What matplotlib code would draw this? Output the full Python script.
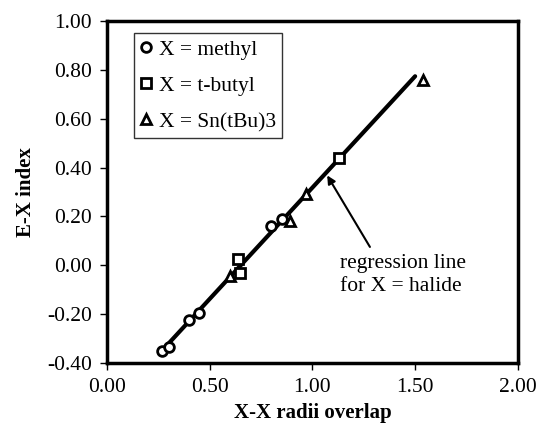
import numpy as np
import matplotlib.pyplot as plt

plt.rcParams['font.family'] = ['Liberation Serif', 'DejaVu Serif']

# data
methyl_x = [0.27, 0.30, 0.40, 0.45, 0.80, 0.85]
methyl_y = [-0.35, -0.335, -0.225, -0.195, 0.16, 0.19]

tbutyl_x = [0.64, 0.65, 1.13]
tbutyl_y = [0.025, -0.03, 0.44]

sn_x = [0.60, 0.89, 0.97, 1.54]
sn_y = [-0.045, 0.18, 0.29, 0.76]

# regression line for X = halide (end points)
reg_x = [0.26, 1.50]
reg_y = [-0.357, 0.774]

fig = plt.figure(figsize=(5.4, 4.3), dpi=100)
ax = fig.add_axes([0.198, 0.156, 0.761, 0.795])

ax.plot(reg_x, reg_y, color='black', lw=3, solid_capstyle='round', zorder=2)

mk = dict(linestyle='none', mfc='white', mec='black', mew=2, ms=7, zorder=3)
ax.plot(methyl_x, methyl_y, marker='o', label='X = methyl', **mk)
ax.plot(tbutyl_x, tbutyl_y, marker='s', label='X = t-butyl', **mk)
ax.plot(sn_x, sn_y, marker='^', label='X = Sn(tBu)3', **mk)

ax.text(1.135, -0.04, 'regression line\nfor X = halide', fontsize=15.5,
        va='center', ha='left', linespacing=1.25)
ax.annotate('', xy=(1.072, 0.368), xytext=(1.28, 0.075),
            arrowprops=dict(arrowstyle='-|>', color='black', lw=1.5,
                            shrinkA=0, shrinkB=0, mutation_scale=12))

ax.set_xlim(0, 2)
ax.set_ylim(-0.4, 1.0)
ax.set_xticks(np.arange(0, 2.01, 0.5))
ax.set_yticks(np.arange(-0.4, 1.01, 0.2))
ax.set_xticklabels([f'{v:.2f}' for v in np.arange(0, 2.01, 0.5)])
ax.set_yticklabels([f'{v:.2f}' for v in np.arange(-0.4, 1.01, 0.2)])
ax.tick_params(labelsize=15.5, direction='out', length=5, width=1, pad=6)

for s in ax.spines.values():
    s.set_linewidth(2.5)

ax.set_xlabel('X-X radii overlap', fontsize=15, fontweight='bold', labelpad=4)
ax.set_ylabel('E-X index', fontsize=15, fontweight='bold', labelpad=8)

leg = ax.legend(loc='upper left', bbox_to_anchor=(0.066, 0.965), fontsize=15.5,
                frameon=True, fancybox=False, edgecolor='black', handletextpad=0.35,
                handlelength=0.5, borderpad=0.3, labelspacing=0.75,
                borderaxespad=0)
leg.get_frame().set_linewidth(1)

fig.savefig('out.png', dpi=100)
